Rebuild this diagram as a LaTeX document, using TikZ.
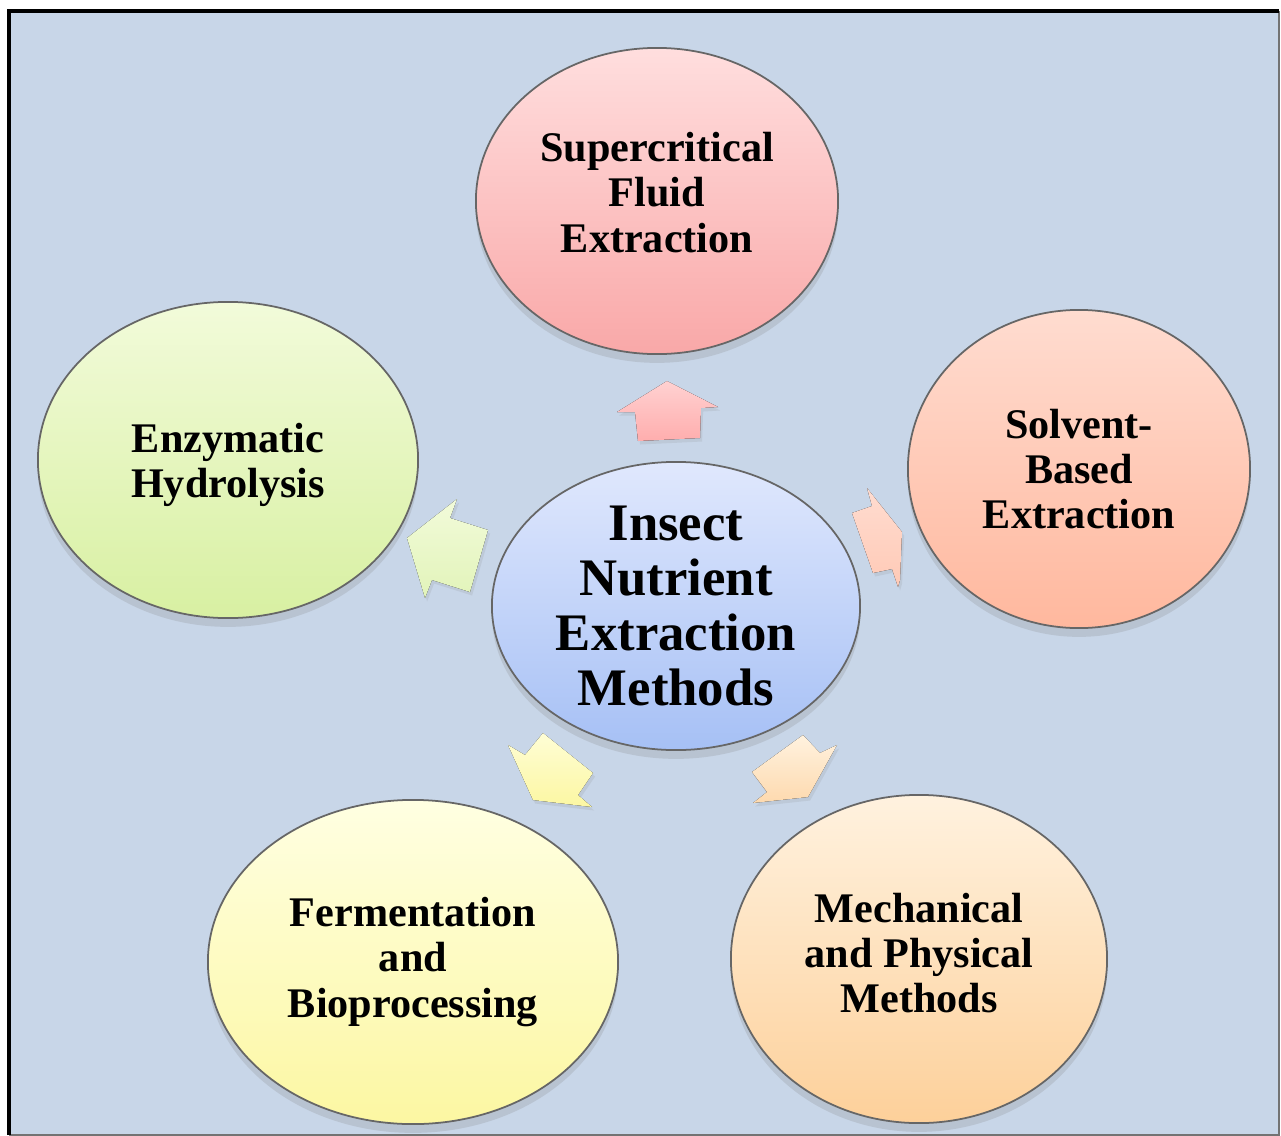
\documentclass[tikz,border=0pt]{standalone}
\usepackage{fontspec}
\setmainfont{Liberation Serif}
\usetikzlibrary{shapes.geometric,shadows}

\definecolor{panelbg}{RGB}{200,214,232}
\definecolor{hubtop}{HTML}{E0E8FD}
\definecolor{hubbot}{HTML}{A6C0F5}
\definecolor{scftop}{HTML}{FFDEDE}
\definecolor{scfbot}{HTML}{F9A8A8}
\definecolor{solvtop}{HTML}{FFDCD0}
\definecolor{solvbot}{HTML}{FFB89E}
\definecolor{enztop}{HTML}{F2FBDA}
\definecolor{enzbot}{HTML}{D8F0A2}
\definecolor{fermtop}{HTML}{FFFFE2}
\definecolor{fermbot}{HTML}{FCF7A2}
\definecolor{mechtop}{HTML}{FFF2DF}
\definecolor{mechbot}{HTML}{FDD09A}

\tikzset{
  method/.style={ellipse, draw=black!60, line width=0.5pt, inner sep=0pt, align=center,
    font=\bfseries\fontsize{12}{12.9}\selectfont,
    drop shadow={opacity=0.22, shadow xshift=0pt, shadow yshift=-2.5pt}},
  hub/.style={method, font=\bfseries\fontsize{15}{15.7}\selectfont},
  blockarrow/.style={drop shadow={opacity=0.15, shadow xshift=0.6pt, shadow yshift=-1pt}}
}

\begin{document}
\begin{tikzpicture}[x=0.01cm, y=-0.01cm]

\useasboundingbox (0,0) rectangle (1281,1136);
\fill[white] (0,0) rectangle (1281,1136);
\fill[panelbg] (9,11) rectangle (1279,1135);
\draw[black!55, line width=0.6pt] (9,1135) -- (1279,1135) -- (1279,11);
\draw[black, line width=1.15pt] (9,1135) -- (9,11) -- (1279,11);

% outer methods
\node[method, top color=scftop, bottom color=scfbot, minimum width=3.62cm, minimum height=3.06cm]
  (scf) at (657,201) {Supercritical\\Fluid\\Extraction\rule[-5pt]{0pt}{0pt}};
\node[method, top color=solvtop, bottom color=solvbot, minimum width=3.42cm, minimum height=3.18cm]
  (solv) at (1079,469) {Solvent-\\Based\\Extraction};
\node[method, top color=enztop, bottom color=enzbot, minimum width=3.80cm, minimum height=3.16cm]
  (enz) at (228,460) {\rule{0pt}{11pt}Enzymatic\\Hydrolysis};
\node[method, top color=fermtop, bottom color=fermbot, minimum width=4.10cm, minimum height=3.24cm]
  (ferm) at (413,962) {Fermentation\\and\\Bioprocessing};
\node[method, top color=mechtop, bottom color=mechbot, minimum width=3.76cm, minimum height=3.28cm]
  (mech) at (919,959) {Mechanical\\and Physical\\Methods\rule[-3.5pt]{0pt}{0pt}};

% centre
\node[hub, top color=hubtop, bottom color=hubbot, minimum width=3.68cm, minimum height=2.88cm]
  (hub) at (676,606) {Insect\\Nutrient\\Extraction\\Methods};

% block arrows
\fill[blockarrow, top color=red!18!white, bottom color=red!32!white]
  (667,381) -- (718,407) -- (701,408) -- (700,438) -- (638,441) -- (635,412) -- (617,412) -- cycle;
\fill[blockarrow, top color=solvtop, bottom color=solvbot!75!white]
  (867,488) -- (902,532) -- (900,580) -- (898,587) -- (892,569) -- (873,573) -- (852,513) -- (872,506) -- cycle;
\fill[blockarrow, top color=enztop, bottom color=enzbot!75!white]
  (407,538) -- (457,499) -- (450,518) -- (488,530) -- (470,592) -- (432,580) -- (425,598) -- cycle;
\fill[blockarrow, top color=fermtop!80!fermbot, bottom color=fermbot]
  (533,800) -- (508,745) -- (525,755) -- (543,733) -- (593,773) -- (578,795) -- (592,807) -- cycle;
\fill[blockarrow, top color=mechtop, bottom color=mechbot!80!white]
  (808,797) -- (837,745) -- (820,753) -- (803,735) -- (752,772) -- (767,792) -- (753,803) -- cycle;

\end{tikzpicture}
\end{document}
